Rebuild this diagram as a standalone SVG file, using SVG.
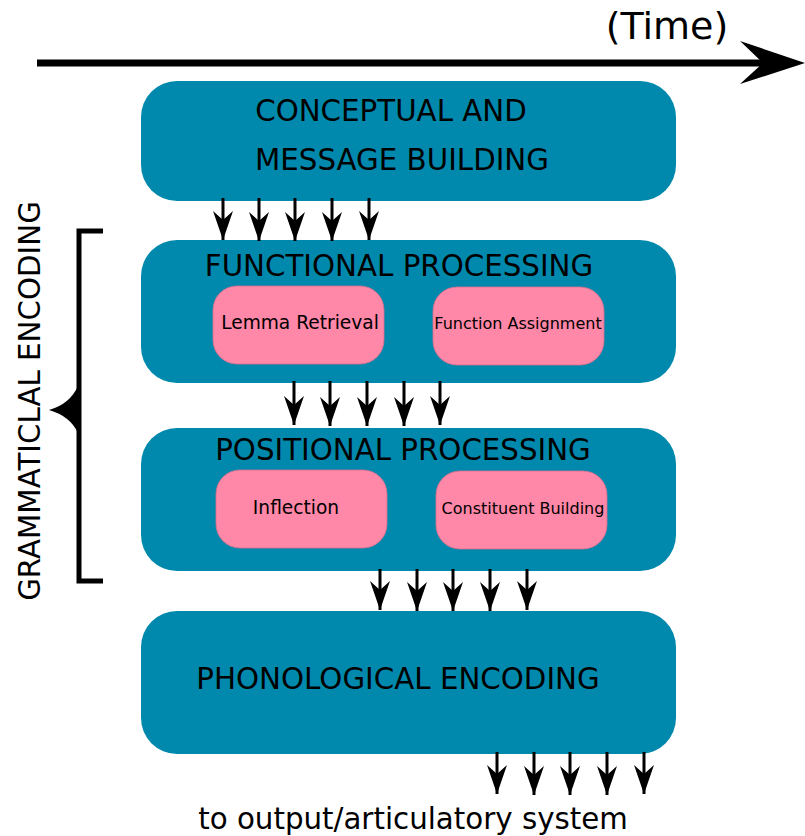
<svg xmlns="http://www.w3.org/2000/svg" width="805" height="836" viewBox="0 0 805 836">
  <style>
    .stage { fill: #0089ad; }
    .sub { fill: #ff87a7; stroke: #d9708e; stroke-width: 0.8; }
    text { font-family: "DejaVu Sans", "Liberation Sans", sans-serif; fill: #000; text-anchor: middle; }
    .big { font-size: 29.3px; }
    .small { font-size: 18.6px; }
    .tiny { font-size: 16px; }
    .flow { stroke: #000; stroke-width: 3; fill: none; marker-end: url(#head); }
  </style>
  <defs>
    <marker id="head" markerUnits="userSpaceOnUse" markerWidth="32" markerHeight="24" viewBox="-30 -12 32 24" refX="0" refY="0" orient="auto">
      <path d="M0,0 L-29,-10 L-20,0 L-29,10 Z" fill="#000"/>
    </marker>
  </defs>

  <!-- time axis -->
  <g id="time">
    <line x1="37" y1="63" x2="770" y2="63" stroke="#000" stroke-width="7"/>
    <path d="M805,63 L740,41 L763,63 L740,84 Z" fill="#000"/>
    <text x="667" y="39" style="font-size:38px">(Time)</text>
  </g>

  <!-- grammatical encoding bracket -->
  <g id="grammatical">
    <path d="M103,231 H79 V581 H103" stroke="#000" stroke-width="5" fill="none"/>
    <path d="M78,386 Q70,404 49,410 Q70,416 78,433 Z" fill="#000"/>
    <text class="big" transform="translate(40,401) rotate(-90)">GRAMMATICLAL ENCODING</text>
  </g>

  <g id="conceptual">
    <rect class="stage" x="141" y="81" width="535" height="120" rx="36"/>
    <text class="big" x="391" y="121">CONCEPTUAL AND</text>
    <text class="big" x="402" y="170">MESSAGE BUILDING</text>
  </g>

  <g id="functional">
    <rect class="stage" x="141" y="240" width="535" height="143" rx="36"/>
    <text class="big" x="399" y="276">FUNCTIONAL PROCESSING</text>
    <g id="lemma">
      <rect class="sub" x="213" y="286" width="171" height="78" rx="24"/>
      <text class="small" x="300" y="329">Lemma Retrieval</text>
    </g>
    <g id="function-assignment">
      <rect class="sub" x="433" y="287" width="171" height="78" rx="24"/>
      <text class="tiny" x="518" y="329">Function Assignment</text>
    </g>
  </g>

  <g id="positional">
    <rect class="stage" x="141" y="428" width="535" height="143" rx="36"/>
    <text class="big" x="403" y="460">POSITIONAL PROCESSING</text>
    <g id="inflection">
      <rect class="sub" x="216" y="470" width="171" height="78" rx="24"/>
      <text class="small" x="296" y="514">Inflection</text>
    </g>
    <g id="constituent">
      <rect class="sub" x="436" y="471" width="171" height="78" rx="24"/>
      <text class="tiny" x="523" y="514">Constituent Building</text>
    </g>
  </g>

  <g id="phonological">
    <rect class="stage" x="141" y="611" width="535" height="143" rx="36"/>
    <text class="big" x="398" y="689">PHONOLOGICAL ENCODING</text>
  </g>

  <g id="output">
    <text class="big" x="413" y="829">to output/articulatory system</text>
  </g>

  <!-- information flow between stages -->
  <g id="connectors">
    <path class="flow" d="M223,198 V240"/>
    <path class="flow" d="M259,198 V241"/>
    <path class="flow" d="M295,198 V241"/>
    <path class="flow" d="M332,198 V241"/>
    <path class="flow" d="M369,198 V240"/>

    <path class="flow" d="M294,381 V425"/>
    <path class="flow" d="M330,381 V426"/>
    <path class="flow" d="M367,381 V426"/>
    <path class="flow" d="M404,381 V426"/>
    <path class="flow" d="M440,381 V425"/>

    <path class="flow" d="M380,569 V610"/>
    <path class="flow" d="M417,569 V611"/>
    <path class="flow" d="M453,569 V611"/>
    <path class="flow" d="M490,569 V611"/>
    <path class="flow" d="M527,569 V610"/>

    <path class="flow" d="M497,752 V794"/>
    <path class="flow" d="M534,752 V795"/>
    <path class="flow" d="M570,752 V795"/>
    <path class="flow" d="M607,752 V795"/>
    <path class="flow" d="M644,752 V794"/>
  </g>
</svg>
